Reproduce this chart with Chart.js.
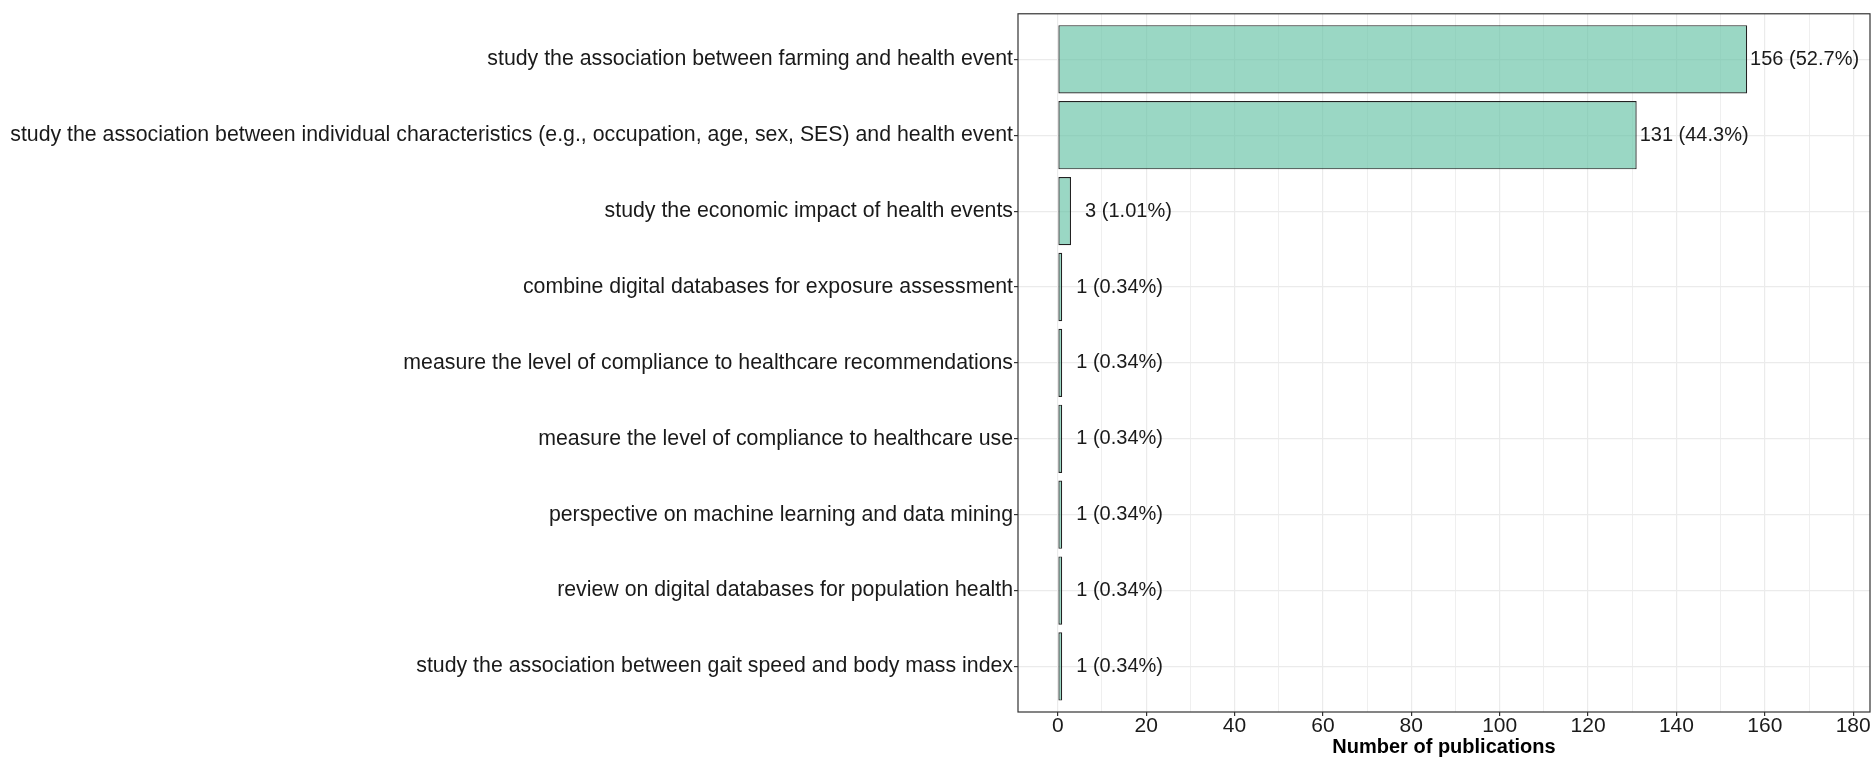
<!DOCTYPE html>
<html>
<head>
<meta charset="utf-8">
<script src="https://cdn.jsdelivr.net/npm/chart.js@4/dist/chart.umd.min.js"></script>
<style>
html,body{margin:0;padding:0;background:#fff;}
#wrap{width:1874px;height:760px;position:relative;}
</style>
</head>
<body>
<div id="wrap"><canvas id="c" width="1874" height="760"></canvas></div>
<script>
const categories = [
  "study the association between farming and health event",
  "study the association between individual characteristics (e.g., occupation, age, sex, SES) and health event",
  "study the economic impact of health events",
  "combine digital databases for exposure assessment",
  "measure the level of compliance to healthcare recommendations",
  "measure the level of compliance to healthcare use",
  "perspective on machine learning and data mining",
  "review on digital databases for population health",
  "study the association between gait speed and body mass index"
];
const counts = [156, 131, 3, 1, 1, 1, 1, 1, 1];
const percentLabels = ["52.7%", "44.3%", "1.01%", "0.34%", "0.34%", "0.34%", "0.34%", "0.34%", "0.34%"];
const xTicks = [0, 20, 40, 60, 80, 100, 120, 140, 160, 180];
const xAxisTitle = "Number of publications";

const FONT = "'Liberation Sans', Arial, sans-serif";
const LABEL_SHIFT = 13; // label centre offset in data units

const panelBorder = {
  id: 'panelBorder',
  afterDraw(chart) {
    const a = chart.chartArea, ctx = chart.ctx;
    ctx.save();
    ctx.strokeStyle = '#333333';
    ctx.lineWidth = 1.2;
    ctx.strokeRect(a.left, a.top, a.right - a.left, a.bottom - a.top);
    ctx.restore();
  }
};

const barLabels = {
  id: 'barLabels',
  afterDatasetsDraw(chart) {
    const ctx = chart.ctx;
    const meta = chart.getDatasetMeta(0);
    const xs = chart.scales.x;
    ctx.save();
    ctx.font = "20px " + FONT;
    ctx.fillStyle = '#1a1a1a';
    ctx.textAlign = 'center';
    ctx.textBaseline = 'middle';
    meta.data.forEach((bar, i) => {
      const txt = counts[i] + " (" + percentLabels[i] + ")";
      ctx.fillText(txt, xs.getPixelForValue(counts[i] + LABEL_SHIFT), bar.y);
    });
    ctx.restore();
  }
};

const chart = new Chart(document.getElementById('c'), {
  type: 'bar',
  data: {
    datasets: [{
      data: categories.map((c, i) => ({ x: counts[i], y: i })),
      backgroundColor: 'rgba(102,194,165,0.66)',
      borderColor: '#222222',
      borderWidth: 1.2,
      borderSkipped: false,
      barPercentage: 0.9,
      categoryPercentage: 1.0
    }]
  },
  options: {
    indexAxis: 'y',
    responsive: false,
    animation: false,
    layout: { padding: { top: 11, right: 4, left: 0, bottom: 0 } },
    plugins: { legend: { display: false }, tooltip: { enabled: false } },
    scales: {
      x: {
        type: 'linear',
        min: -9,
        max: 183.8,
        afterBuildTicks(scale) {
          const t = [];
          for (let v = 0; v <= 180; v += 10) t.push({ value: v });
          scale.ticks = t;
        },
        afterFit(scale) { scale.height = 48; },
        ticks: {
          autoSkip: false,
          maxRotation: 0,
          padding: -2,
          color: '#1a1a1a',
          font: { family: FONT, size: 21 },
          callback: (v) => xTicks.includes(v) ? String(v) : ''
        },
        grid: {
          color: '#ebebeb',
          lineWidth: (ctx) => (ctx.tick && xTicks.includes(ctx.tick.value)) ? 1.2 : 0.8,
          tickColor: (ctx) => (ctx.tick && xTicks.includes(ctx.tick.value)) ? '#333333' : 'rgba(0,0,0,0)',
          tickLength: 4,
          drawTicks: true
        },
        border: { display: false },
        title: {
          display: true,
          text: xAxisTitle,
          color: '#000000',
          font: { family: FONT, size: 20, weight: 'bold' },
          padding: { top: 0, bottom: 1 }
        }
      },
      y: {
        type: 'linear',
        reverse: true,
        offset: false,
        min: -0.6,
        max: categories.length - 1 + 0.6,
        afterBuildTicks(scale) {
          scale.ticks = categories.map((c, i) => ({ value: i }));
        },
        afterFit(scale) { scale.width = 1018; },
        ticks: {
          autoSkip: false,
          padding: 1,
          color: '#1a1a1a',
          font: { family: FONT, size: 21.3 },
          callback: (v) => categories[v] !== undefined ? categories[v] : ''
        },
        grid: {
          offset: false,
          color: '#ebebeb',
          lineWidth: 1.2,
          tickColor: '#333333',
          tickLength: 4,
          drawTicks: true
        },
        border: { display: false }
      }
    }
  },
  plugins: [panelBorder, barLabels]
});
</script>
</body>
</html>
